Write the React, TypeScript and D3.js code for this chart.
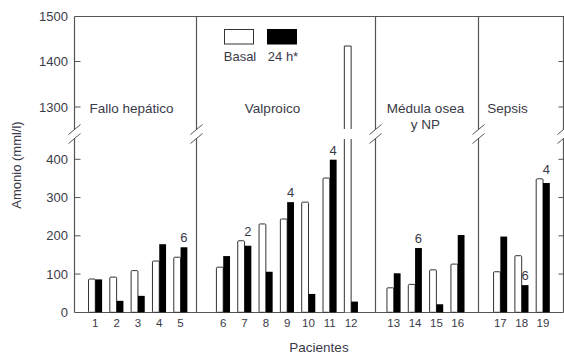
import React from "react";
import * as d3 from "d3";

const patients = ["1","2","3","4","5","6","7","8","9","10","11","12","13","14","15","16","17","18","19"];
const groupOf = [0,0,0,0,0,1,1,1,1,1,1,1,2,2,2,2,3,3,3];
const basal = [87,92,109,134,144,118,187,231,244,288,351,1434,64,73,111,126,106,148,349];
const h24 = [86,30,43,178,170,147,174,106,288,48,399,28,102,168,21,202,198,71,338];
const groupNames = [["Fallo hepático"],["Valproico"],["Médula osea","y NP"],["Sepsis"]];
const annotations = [
  { patient: 5, n: "6" },
  { patient: 7, n: "2" },
  { patient: 9, n: "4" },
  { patient: 11, n: "4" },
  { patient: 14, n: "6" },
  { patient: 18, n: "6" },
  { patient: 19, n: "4" },
];
const lowerTicks = [0, 100, 200, 300, 400];
const upperTicks = [1300, 1400, 1500];
const legendLabels = ["Basal", "24 h*"];

const W = 564, H = 358;
const FONT = "'Liberation Sans', Arial, sans-serif";
const TXT = "#3a3a48";
const AX = "#555";

const left = 74.5, right = 563.5, top = 16.5, bottom = 312.5;
const gapTop = 129, gapBot = 139;
const breakVal = 440;
const dividers = [196.5, 375.5, 478.5];
const groupLabelX = [131.5, 272.5, 425.5, 507.5];

const x = d3.scaleLinear().domain([0, 21]).range([95.3, 543]);
const yLow = d3.scaleLinear().domain([0, 400]).range([312.3, 159.3]);
const yHigh = d3.scaleLinear().domain([1300, 1500]).range([107, 16]);
const yv = (v: number) => (v <= breakVal ? yLow(v) : yHigh(v));
const barW = 6.8;

function BreakMark({ cx, cy }: { cx: number; cy: number }) {
  const dx = 6, dy = 5, sep = 9;
  return (
    <g>
      <polygon
        points={`${cx - dx},${cy - sep / 2 + dy} ${cx + dx},${cy - sep / 2 - dy} ${cx + dx},${cy + sep / 2 - dy} ${cx - dx},${cy + sep / 2 + dy}`}
        fill="#fff"
      />
      <line x1={cx - dx} y1={cy - sep / 2 + dy} x2={cx + dx} y2={cy - sep / 2 - dy} stroke={AX} strokeWidth={1} />
      <line x1={cx - dx} y1={cy + sep / 2 + dy} x2={cx + dx} y2={cy + sep / 2 - dy} stroke={AX} strokeWidth={1} />
    </g>
  );
}

export default function App() {
  const slot = (i: number) => i + groupOf[i];
  const breakCy = (gapTop + gapBot) / 2;
  return (
    <svg width={W} height={H} style={{ position: "absolute", left: 0, top: 0, background: "#fff" }} fontFamily={FONT}>
      <rect x={0} y={0} width={W} height={H} fill="#fff" />
      {/* frame */}
      <line x1={left} y1={top} x2={W} y2={top} stroke={AX} strokeWidth={1.2} />
      <line x1={left} y1={bottom} x2={right} y2={bottom} stroke={AX} strokeWidth={1.2} />
      <line x1={left} y1={top} x2={left} y2={bottom} stroke={AX} strokeWidth={1.2} />
      <line x1={right} y1={top} x2={right} y2={bottom} stroke={AX} strokeWidth={1.2} />
      {dividers.map((d, i) => (
        <line key={i} x1={d} y1={top} x2={d} y2={bottom} stroke={AX} strokeWidth={1.2} />
      ))}
      {/* ticks */}
      {lowerTicks.map((t) => (
        <g key={"l" + t}>
          {t > 0 && <line x1={left} x2={left + 6} y1={yLow(t)} y2={yLow(t)} stroke={AX} />}
          {t > 0 && <line x1={right - 5} x2={right} y1={yLow(t)} y2={yLow(t)} stroke={AX} />}
          <text x={68} y={yLow(t)} dy="0.36em" textAnchor="end" fontSize={13} fill={TXT}>{t}</text>
        </g>
      ))}
      {upperTicks.map((t) => (
        <g key={"u" + t}>
          {t < 1500 && <line x1={left} x2={left + 6} y1={yHigh(t)} y2={yHigh(t)} stroke={AX} />}
          {t < 1500 && <line x1={right - 5} x2={right} y1={yHigh(t)} y2={yHigh(t)} stroke={AX} />}
          <text x={68} y={yHigh(t)} dy="0.36em" textAnchor="end" fontSize={13} fill={TXT}>{t}</text>
        </g>
      ))}
      {/* break marks */}
      {[left, ...dividers, right].map((d, i) => (
        <BreakMark key={i} cx={d} cy={breakCy} />
      ))}
      {/* bars */}
      {patients.map((p, i) => {
        const cx = x(slot(i));
        const xb = cx - barW;
        const vb = basal[i];
        const y0 = yLow(0);
        let basalEl;
        if (vb > breakVal) {
          const yt = yHigh(vb);
          basalEl = (
            <g>
              <rect x={xb} y={yt} width={barW} height={gapTop - yt} fill="#fff" />
              <rect x={xb} y={gapBot} width={barW} height={y0 - gapBot} fill="#fff" />
              <path d={`M${xb},${gapTop}V${yt}H${xb + barW}V${gapTop}`} fill="none" stroke="#333" strokeWidth={1} />
              <path d={`M${xb},${gapBot}V${y0}M${xb + barW},${y0}V${gapBot}`} fill="none" stroke="#333" strokeWidth={1} />
            </g>
          );
        } else {
          basalEl = <rect x={xb} y={yv(vb)} width={barW} height={y0 - yv(vb)} fill="#fff" stroke="#333" strokeWidth={1} rx={1} />;
        }
        return (
          <g key={p}>
            {basalEl}
            <rect x={cx} y={yv(h24[i])} width={barW} height={y0 - yv(h24[i])} fill="#000" />
            <text x={cx} y={327} textAnchor="middle" fontSize={11.5} fill={TXT}>{p}</text>
          </g>
        );
      })}
      {/* annotations */}
      {annotations.map((a) => {
        const i = patients.indexOf(String(a.patient));
        const cx = x(slot(i)) + barW / 2;
        const near = Math.abs(basal[i] - h24[i]) < 30;
        const topV = near ? Math.max(basal[i], h24[i]) : h24[i];
        return (
          <text key={a.patient} x={cx} y={yv(topV) - 5} textAnchor="middle" fontSize={13} fill={TXT}>{a.n}</text>
        );
      })}
      {/* group labels */}
      {groupNames.map((g, i) => (
        <text key={i} x={groupLabelX[i]} y={113} textAnchor="middle" fontSize={13.5} fill={TXT}>
          {g.map((line, j) => (
            <tspan key={j} x={groupLabelX[i]} dy={j === 0 ? 0 : 16}>{line}</tspan>
          ))}
        </text>
      ))}
      {/* legend */}
      <rect x={224.5} y={29.5} width={29} height={14.5} fill="#fff" stroke="#333" strokeWidth={1} />
      <rect x={267} y={29} width={30} height={15.5} fill="#000" />
      <text x={240} y={61} textAnchor="middle" fontSize={13} fill={TXT}>{legendLabels[0]}</text>
      <text x={283} y={61} textAnchor="middle" fontSize={13} fill={TXT}>{legendLabels[1]}</text>
      {/* axis titles */}
      <text x={319} y={352} textAnchor="middle" fontSize={13.5} fill={TXT}>Pacientes</text>
      <text transform="translate(21,165) rotate(-90)" textAnchor="middle" fontSize={13} fill={TXT}>Amonio (mml/l)</text>
    </svg>
  );
}
